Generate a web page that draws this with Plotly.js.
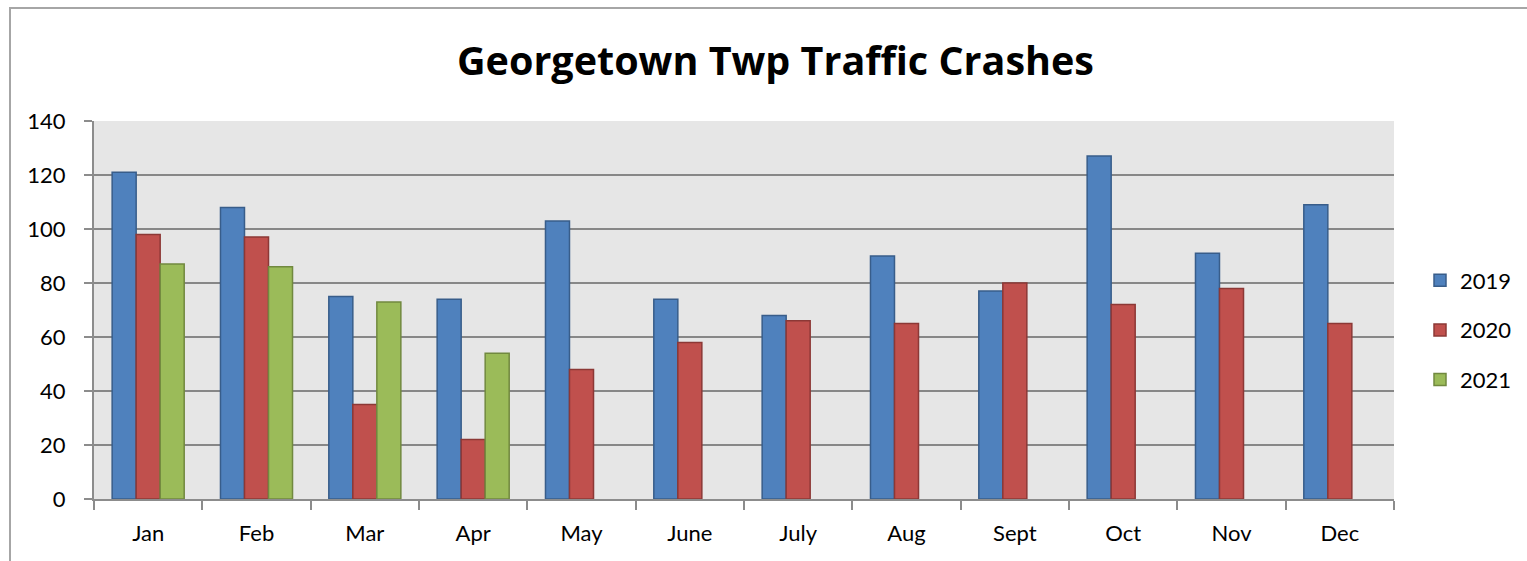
<!DOCTYPE html>
<html>
<head>
<meta charset="utf-8">
<script src="https://cdn.plot.ly/plotly-3.0.1.min.js"></script>
<style>
  html, body { margin: 0; padding: 0; background: #ffffff; }
  #wrap { position: relative; width: 1527px; height: 561px; overflow: hidden; }
  #chart { position: absolute; left: 0; top: 0; width: 1527px; height: 561px; }
  .bl { position: absolute; background: #a6a6a6; }
</style>
</head>
<body>
<div id="wrap">
  <div id="chart"></div>
  <div class="bl" style="left:9px; top:7px; width:1518px; height:2px;"></div>
  <div class="bl" style="left:9px; top:7px; width:2px; height:554px;"></div>
</div>
<script>
const months = ["Jan", "Feb", "Mar", "Apr", "May", "June", "July", "Aug", "Sept", "Oct", "Nov", "Dec"];
const crashes2019 = [121, 108, 75, 74, 103, 74, 68, 90, 77, 127, 91, 109];
const crashes2020 = [98, 97, 35, 22, 48, 58, 66, 65, 80, 72, 78, 65];
const crashes2021 = [87, 86, 73, 54, null, null, null, null, null, null, null, null];
const seriesNames = ["2019", "2020", "2021"];
const yTicks = [0, 20, 40, 60, 80, 100, 120, 140];

const fills = ["#4F81BD", "#C0504D", "#9BBB59"];
const borders = ["#385D8A", "#8C3836", "#71893F"];
const values = [crashes2019, crashes2020, crashes2021];

const traces = values.map((v, i) => ({
  type: "bar",
  name: seriesNames[i],
  x: months,
  y: v,
  legendgroup: "g" + i,
  marker: { color: fills[i], line: { color: borders[i], width: 1.5 } },
  hoverinfo: "x+y+name"
}));

const font = "Lato, 'Open Sans', sans-serif";
const layout = {
  width: 1527,
  height: 561,
  margin: { l: 94, r: 133, t: 121, b: 62, pad: 0, autoexpand: false },
  paper_bgcolor: "rgba(0,0,0,0)",
  plot_bgcolor: "#e6e6e6",
  barmode: "group",
  bargap: 0.335,
  bargroupgap: 0,
  title: {
    text: "<b>Georgetown Twp Traffic Crashes</b>",
    font: { family: "'Open Sans', Lato, sans-serif", size: 39.5, color: "#000000" },
    x: 775.5 / 1527, xref: "container", xanchor: "center",
    y: 1 - 61 / 561, yref: "container", yanchor: "middle"
  },
  font: { family: font, size: 22, color: "#000000" },
  xaxis: {
    type: "category",
    showgrid: false,
    showline: true,
    linecolor: "#8c8c8c",
    linewidth: 2,
    ticks: "outside",
    tickson: "boundaries",
    ticklen: 9,
    tickcolor: "#8c8c8c",
    tickwidth: 1.5,
    ticklabelstandoff: 14,
    tickfont: { family: font, size: 22, color: "#000000" },
    zeroline: false,
    fixedrange: true
  },
  yaxis: {
    range: [0, 140],
    tickvals: yTicks,
    ticktext: yTicks.map(String),
    showgrid: true,
    gridcolor: "#878787",
    gridwidth: 2,
    showline: true,
    linecolor: "#8c8c8c",
    linewidth: 2,
    ticks: "outside",
    ticklen: 8,
    tickcolor: "#8c8c8c",
    tickwidth: 1.5,
    ticklabelstandoff: 14,
    tickfont: { family: font, size: 22, color: "#000000" },
    zeroline: false,
    fixedrange: true
  },
  legend: {
    x: 1.02, xanchor: "left",
    y: (499 - 330) / 378, yanchor: "middle",
    traceorder: "grouped",
    tracegroupgap: 18,
    font: { family: font, size: 22, color: "#000000" },
    bgcolor: "rgba(0,0,0,0)",
    itemwidth: 30
  },
  showlegend: true
};

Plotly.newPlot("chart", traces, layout, { displayModeBar: false, staticPlot: false });
</script>
</body>
</html>
